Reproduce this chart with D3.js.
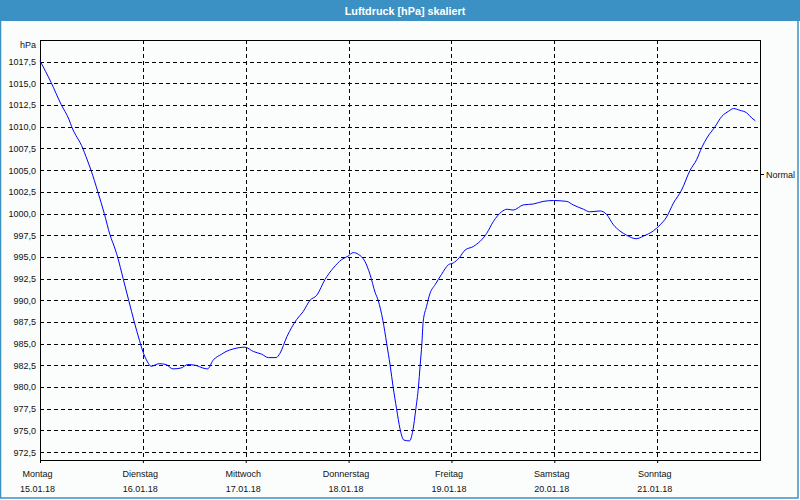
<!DOCTYPE html>
<html><head><meta charset="utf-8">
<script src="https://cdn.jsdelivr.net/npm/d3@7"></script>
<style>
body{margin:0;background:#fbfdfd;}
svg{display:block;}
text{font-family:"Liberation Sans",Arial,sans-serif;}
</style>
</head><body>
<svg id="c" width="800" height="500"></svg>
<script>
const title = "Luftdruck [hPa] skaliert";
const unitLabel = "hPa";
const dayNames = ["Montag","Dienstag","Mittwoch","Donnerstag","Freitag","Samstag","Sonntag"];
const dayDates = ["15.01.18","16.01.18","17.01.18","18.01.18","19.01.18","20.01.18","21.01.18"];
const yTicks = [972.5,975,977.5,980,982.5,985,987.5,990,992.5,995,997.5,1000,1002.5,1005,1007.5,1010,1012.5,1015,1017.5];
const normalValue = 1004.6;
const normalLabel = "Normal";
// hours since Monday 15.01.18 00:00
const hours = [0,2.6,4.9,6.8,7.4,10.0,10.7,11.9,13.5,15.0,16.3,17.6,18.1,19.4,20.7,22.0,23.2,24.0,25.1,25.9,27.8,29.4,31.0,32.9,34.5,36.4,38.0,39.1,40.4,42.4,43.4,45.1,47.8,49.8,51.7,53.3,55.1,56.0,57.6,59.9,61.4,63.0,64.6,66.5,68.4,70.4,71.9,73.1,74.3,75.8,77.0,78.2,78.9,80.0,80.9,81.7,82.4,83.2,84.0,84.9,86.2,87.0,87.7,88.3,88.7,89.1,89.4,90.2,91.0,92.2,93.7,95.3,96.4,97.8,99.2,101.1,104.2,105.8,107.7,109.0,110.4,112.8,115.1,117.4,119.8,122.9,124.4,126.8,128.3,130.7,132.2,133.8,135.3,136.9,139.1,140.8,143.1,144.7,146.2,147.8,149.7,151.7,153.2,154.4,155.6,157.5,159.1,160.7,161.8,163.3,164.9,166.1,166.9];
const pressure = [1017.6,1015.1,1012.6,1010.8,1010.0,1007.5,1006.6,1005.0,1002.5,1000.0,997.6,995.8,995.0,992.5,990.0,987.5,985.4,984.1,982.9,982.4,982.7,982.6,982.1,982.2,982.6,982.5,982.2,982.1,983.1,983.8,984.1,984.4,984.6,984.1,983.8,983.4,983.4,983.9,985.8,987.8,988.7,990.0,990.6,992.4,993.7,994.7,995.1,995.5,995.3,994.5,993.0,990.9,990.0,987.7,985.0,982.5,980.0,977.5,975.2,973.9,973.8,975.0,977.5,980.0,982.5,985.0,987.5,989.3,990.8,991.8,993.0,994.1,994.3,994.9,995.8,996.2,997.7,999.1,1000.2,1000.5,1000.4,1001.0,1001.1,1001.4,1001.5,1001.4,1001.0,1000.5,1000.2,1000.3,999.9,998.7,998.0,997.5,997.1,997.4,998.0,998.7,999.6,1001.2,1002.7,1005.0,1006.2,1007.6,1008.7,1010.0,1011.2,1011.8,1012.1,1011.9,1011.6,1011.0,1010.7];

const W = 800, H = 500;
const plot = {left:40, top:40, right:760, bottom:460};
const start = new Date(2018,0,15);
const end = d3.timeDay.offset(start, 7);
const x = d3.scaleTime().domain([start, end]).range([plot.left, plot.right]);
const y = d3.scaleLinear().domain([971.6, 1020]).range([plot.bottom, plot.top]);
const loc = d3.formatLocale({decimal:",", thousands:".", grouping:[3], currency:["","€"]});
const fmt = loc.format(".1f");

const svg = d3.select("#c");
const blue = "#3c91c4";

svg.append("rect").attr("x",0).attr("y",0).attr("width",W).attr("height",H).attr("fill","#fbfdfd");
// title bar
svg.append("rect").attr("x",0).attr("y",0).attr("width",W).attr("height",21).attr("fill",blue);
svg.append("text").attr("x",405).attr("y",14.5).attr("text-anchor","middle")
  .attr("fill","#fff").attr("font-weight","bold").attr("font-size","10.8px").text(title);
// outer border
svg.append("rect").attr("x",0.5).attr("y",0.5).attr("width",797.5).attr("height",497.5)
  .attr("fill","none").attr("stroke",blue).attr("stroke-width",1.5);

// horizontal grid
svg.append("g").selectAll("line").data(yTicks).join("line")
  .attr("x1",plot.left).attr("x2",plot.right)
  .attr("y1",d=>Math.round(y(d))+0.5).attr("y2",d=>Math.round(y(d))+0.5)
  .attr("stroke","#000").attr("stroke-dasharray","4,3").attr("stroke-width",1);
// vertical grid
const days = d3.range(7).map(i=>d3.timeDay.offset(start,i));
svg.append("g").selectAll("line").data(days.slice(1)).join("line")
  .attr("x1",d=>Math.round(x(d))+0.5).attr("x2",d=>Math.round(x(d))+0.5)
  .attr("y1",plot.top).attr("y2",plot.bottom)
  .attr("stroke","#000").attr("stroke-dasharray","4,3").attr("stroke-width",1);

// y axis labels
const yAxis = d3.axisLeft(y).tickValues(yTicks).tickFormat(d=>fmt(d)).tickSize(0).tickPadding(4);
const gy = svg.append("g").attr("transform",`translate(${plot.left},0)`).call(yAxis);
gy.select(".domain").remove();
gy.selectAll("text").attr("font-size","9px").attr("fill","#111").attr("font-family","Liberation Sans, Arial, sans-serif");
svg.append("text").attr("x",36).attr("y",48).attr("text-anchor","end")
  .attr("font-size","9px").attr("fill","#111").text(unitLabel);

// x axis
const xAxis = d3.axisBottom(x).tickValues(days).tickSize(3).tickFormat("");
const gx = svg.append("g").attr("transform",`translate(0,${plot.bottom})`).call(xAxis);
gx.select(".domain").remove();
gx.selectAll("line").attr("stroke","#000");
const lab = svg.append("g").selectAll("g").data(days).join("g")
  .attr("transform",d=>`translate(${x(d)-2.5},0)`);
lab.append("text").attr("y",476.5).attr("text-anchor","middle").attr("font-size","9px").attr("fill","#111")
  .text((d,i)=>dayNames[i]);
lab.append("text").attr("y",492).attr("text-anchor","middle").attr("font-size","9px").attr("fill","#111")
  .text((d,i)=>dayDates[i]);

// right "Normal" tick
const ny = Math.round(y(normalValue))+0.5;
svg.append("line").attr("x1",plot.right).attr("x2",plot.right+4).attr("y1",ny).attr("y2",ny).attr("stroke","#000");
svg.append("text").attr("x",plot.right+6).attr("y",ny+3.2).attr("font-size","9px").attr("fill","#111").text(normalLabel);

// frame
svg.append("rect").attr("x",plot.left+0.5).attr("y",plot.top+0.5)
  .attr("width",plot.right-plot.left).attr("height",plot.bottom-plot.top)
  .attr("fill","none").attr("stroke","#000").attr("stroke-width",1);

// data line
const data = hours.map((h,i)=>({t:d3.timeMinute.offset(start, Math.round(h*60)), v:pressure[i]}));
const line = d3.line().x(d=>x(d.t)).y(d=>y(d.v)).curve(d3.curveMonotoneX);
svg.append("path").datum(data).attr("d",line).attr("fill","none").attr("stroke","#0000ff").attr("stroke-width",1);
</script>
</body></html>
